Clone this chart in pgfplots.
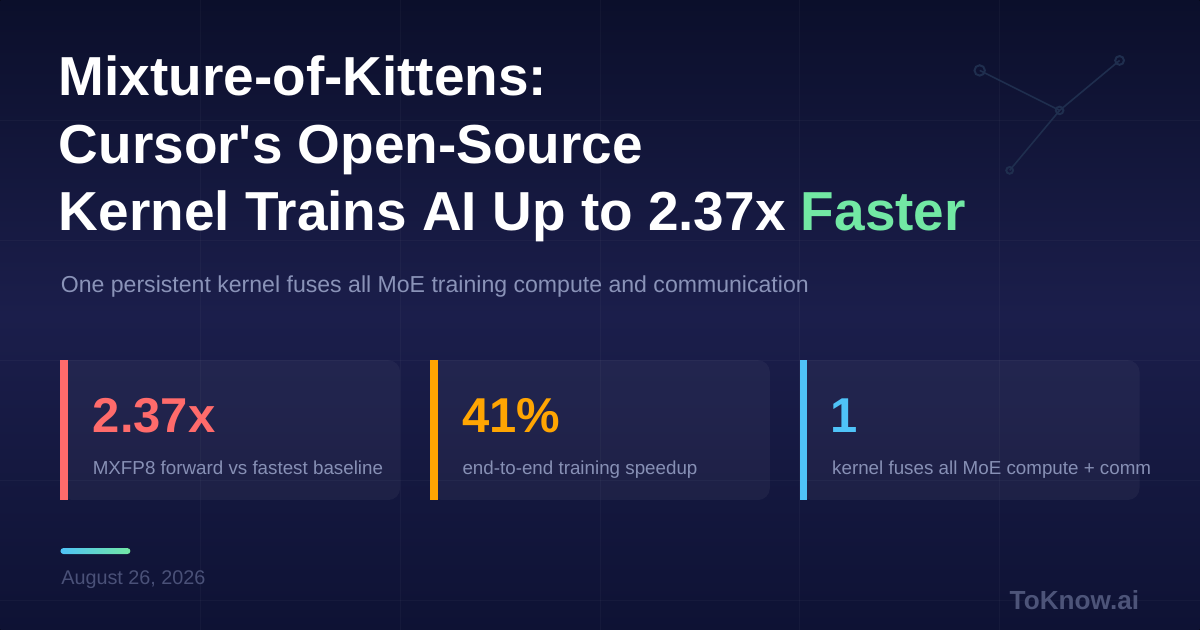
\documentclass[border=0pt]{standalone}
\usepackage{pgfplots}
\pgfplotsset{compat=1.18}
\usepackage{fontspec}
\setmainfont{Liberation Sans}[Ligatures=TeXOff]
\definecolor{bgtop}{HTML}{0B0F2B}
\definecolor{bgmid}{HTML}{1B1E4B}
\definecolor{bgbot}{HTML}{0E1234}
\definecolor{coral}{HTML}{FF6B6B}
\definecolor{amber}{HTML}{FFA502}
\definecolor{sky}{HTML}{4FC3F7}
\definecolor{mint}{HTML}{72E8A4}
\definecolor{subtxt}{HTML}{8A93B8}
\definecolor{labtxt}{HTML}{8790B5}
\definecolor{datetxt}{HTML}{4A5178}
\definecolor{logotxt}{HTML}{4D5479}
\definecolor{netc}{HTML}{1F2E4E}
\tikzset{gridl/.style={white, draw opacity=0.03, line width=0.5pt},
  card/.style={white, fill opacity=0.045}}
\begin{document}
\begin{tikzpicture}
\begin{axis}[
  width=600pt, height=315pt, scale only axis,
  xmin=0, xmax=1200, ymin=0, ymax=630, y dir=reverse,
  hide axis, clip=false,
]
% background
\fill[top color=bgtop, bottom color=bgbot, middle color=bgmid] (axis cs:0,0) rectangle (axis cs:1200,630);
% faint grid
\draw[gridl] (axis cs:200,0) -- (axis cs:200,630);
\draw[gridl] (axis cs:400,0) -- (axis cs:400,630);
\draw[gridl] (axis cs:600,0) -- (axis cs:600,630);
\draw[gridl] (axis cs:800,0) -- (axis cs:800,630);
\draw[gridl] (axis cs:1000,0) -- (axis cs:1000,630);
\draw[gridl] (axis cs:0,120) -- (axis cs:1200,120);
\draw[gridl] (axis cs:0,240) -- (axis cs:1200,240);
\draw[gridl] (axis cs:0,360) -- (axis cs:1200,360);
\draw[gridl] (axis cs:0,480) -- (axis cs:1200,480);
\draw[gridl] (axis cs:0,600) -- (axis cs:1200,600);
% network decoration
\addplot[netc, line width=0.8pt] coordinates {(980,70) (1060,110) (1120,60)};
\addplot[netc, line width=0.8pt] coordinates {(1060,110) (1010,170)};
\addplot[only marks, mark=o, mark size=2.6pt, mark options={netc, line width=1pt, fill=bgtop}] coordinates {(980,70)};
\addplot[only marks, mark=o, mark size=2.2pt, mark options={netc, line width=1pt, fill=bgtop}] coordinates {(1120,60)};
\addplot[only marks, mark=o, mark size=1.9pt, mark options={netc, line width=1pt, fill=bgmid!70!bgtop}] coordinates {(1060,110)};
\addplot[only marks, mark=o, mark size=1.7pt, mark options={netc, line width=1pt, fill=bgmid!80!bgtop}] coordinates {(1010,170)};
% title
\node[anchor=base west, inner sep=0, text=white, font=\fontsize{27.5}{33}\selectfont\bfseries] at (axis cs:58,95) {Mixture-of-Kittens:};
\node[anchor=base west, inner sep=0, text=white, font=\fontsize{27.5}{33}\selectfont\bfseries] at (axis cs:58,163) {Cursor's Open-Source};
\node[anchor=base west, inner sep=0, text=white, font=\fontsize{27.5}{33}\selectfont\bfseries] at (axis cs:58,230) {Kernel Trains AI Up to 2.37x \textcolor{mint}{Faster}};
% subtitle
\node[anchor=base west, inner sep=0, text=subtxt, font=\fontsize{11.55}{13}\selectfont] at (axis cs:60,292) {One persistent kernel fuses all MoE training compute and communication};
% cards
\fill[card] (axis cs:60,360) [rounded corners=6pt] -- (axis cs:400,360) -- (axis cs:400,500) -- (axis cs:60,500) [sharp corners] -- cycle;
\fill[card] (axis cs:430,360) [rounded corners=6pt] -- (axis cs:770,360) -- (axis cs:770,500) -- (axis cs:430,500) [sharp corners] -- cycle;
\fill[card] (axis cs:800,360) [rounded corners=6pt] -- (axis cs:1140,360) -- (axis cs:1140,500) -- (axis cs:800,500) [sharp corners] -- cycle;
\fill[coral] (axis cs:60,360) rectangle (axis cs:67.5,500);
\fill[amber] (axis cs:430,360) rectangle (axis cs:437.5,500);
\fill[sky] (axis cs:800,360) rectangle (axis cs:807.5,500);
\node[anchor=base west, inner sep=0, text=coral, font=\fontsize{24.5}{28}\selectfont\bfseries] at (axis cs:92,432) {2.37x};
\node[anchor=base west, inner sep=0, text=amber, font=\fontsize{24.5}{28}\selectfont\bfseries] at (axis cs:462,432) {41\%};
\node[anchor=base west, inner sep=0, text=sky, font=\fontsize{24.5}{28}\selectfont\bfseries] at (axis cs:830,432) {1};
\node[anchor=base west, inner sep=0, text=labtxt, font=\fontsize{9.4}{11}\selectfont] at (axis cs:92,474) {MXFP8 forward vs fastest baseline};
\node[anchor=base west, inner sep=0, text=labtxt, font=\fontsize{9.4}{11}\selectfont] at (axis cs:462,474) {end-to-end training speedup};
\node[anchor=base west, inner sep=0, text=labtxt, font=\fontsize{9.4}{11}\selectfont] at (axis cs:832,474) {kernel fuses all MoE compute + comm};
% gradient accent
\fill[left color=sky, right color=mint, rounded corners=1.5pt] (axis cs:60,548) rectangle (axis cs:130,554);
% date
\node[anchor=base west, inner sep=0, text=datetxt, font=\fontsize{9.9}{12}\selectfont] at (axis cs:60.5,584) {August 26, 2026};
% logo
\node[anchor=base east, inner sep=0, text=logotxt, font=\fontsize{13.1}{15}\selectfont\bfseries] at (axis cs:1140,610) {ToKnow.ai};
\end{axis}
\end{tikzpicture}
\end{document}
